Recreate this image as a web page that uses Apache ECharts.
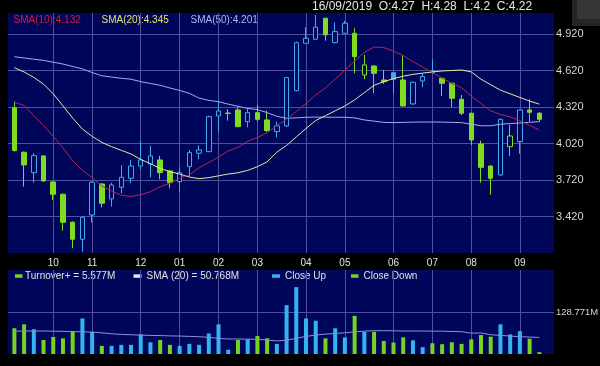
<!DOCTYPE html>
<html><head><meta charset="utf-8">
<script src="https://cdn.jsdelivr.net/npm/echarts@6/dist/echarts.min.js"></script>
<style>html,body{margin:0;padding:0;background:#000;}#c{width:600px;height:366px;}</style>
</head><body><div id="c"></div>
<script>
// ---- data (weekly) ----
const weeks = ['03/09/2018','10/09/2018','17/09/2018','24/09/2018','01/10/2018','08/10/2018','15/10/2018','22/10/2018','29/10/2018','05/11/2018','12/11/2018','19/11/2018','26/11/2018','03/12/2018','10/12/2018','17/12/2018','24/12/2018','31/12/2018','07/01/2019','14/01/2019','21/01/2019','28/01/2019','04/02/2019','11/02/2019','18/02/2019','25/02/2019','04/03/2019','11/03/2019','18/03/2019','25/03/2019','01/04/2019','08/04/2019','15/04/2019','22/04/2019','29/04/2019','06/05/2019','13/05/2019','20/05/2019','27/05/2019','03/06/2019','10/06/2019','17/06/2019','24/06/2019','01/07/2019','08/07/2019','15/07/2019','22/07/2019','29/07/2019','05/08/2019','12/08/2019','19/08/2019','26/08/2019','02/09/2019','09/09/2019','16/09/2019'];
const opens  = [4.316,3.949,3.781,3.919,3.705,3.603,3.373,3.233,3.433,3.688,3.565,3.661,3.735,3.836,3.853,3.886,3.795,3.707,3.831,3.941,3.954,4.248,4.268,4.297,4.201,4.275,4.215,4.119,4.166,4.456,4.846,4.879,5.052,4.851,4.928,4.928,4.585,4.659,4.544,4.604,4.544,4.347,4.536,4.618,4.558,4.517,4.385,4.270,4.017,3.836,3.762,3.995,4.037,4.297,4.27];
const highs  = [4.366,3.955,3.941,3.925,3.712,3.610,3.380,3.420,3.710,3.695,3.699,3.842,3.886,4.045,4.001,3.919,3.800,3.825,3.968,4.006,4.250,4.374,4.303,4.319,4.311,4.338,4.292,4.201,4.570,4.860,4.978,5.079,5.055,5.016,5.030,4.969,4.750,4.665,4.626,4.610,4.750,4.530,4.599,4.714,4.562,4.520,4.421,4.275,4.045,3.840,4.225,4.174,4.300,4.385,4.28];
const lows   = [3.955,3.666,3.699,3.705,3.557,3.304,3.159,3.131,3.370,3.496,3.502,3.611,3.694,3.803,3.743,3.727,3.653,3.625,3.749,3.891,3.950,4.119,4.209,4.155,4.155,4.201,4.116,4.072,4.160,4.450,4.840,4.873,4.868,4.846,4.923,4.599,4.550,4.434,4.511,4.434,4.325,4.338,4.484,4.594,4.412,4.319,4.256,4.009,3.699,3.598,3.755,3.919,3.935,4.201,4.20];
const closes = [3.963,3.845,3.921,3.713,3.603,3.373,3.233,3.414,3.702,3.529,3.680,3.743,3.836,3.886,3.919,3.781,3.699,3.781,3.946,3.968,4.242,4.289,4.272,4.160,4.275,4.220,4.127,4.166,4.563,4.851,4.887,4.978,4.915,4.942,5.011,4.736,4.668,4.599,4.530,4.550,4.330,4.525,4.572,4.606,4.517,4.393,4.270,4.050,3.825,3.735,4.220,4.083,4.297,4.278,4.22];
const sma10 = [4.36,4.335,4.25,4.17,4.08,3.985,3.88,3.80,3.74,3.67,3.63,3.595,3.585,3.60,3.625,3.665,3.695,3.735,3.765,3.82,3.865,3.91,3.96,3.99,4.04,4.07,4.11,4.17,4.22,4.285,4.35,4.42,4.48,4.55,4.625,4.70,4.77,4.815,4.81,4.78,4.745,4.695,4.65,4.605,4.56,4.515,4.48,4.41,4.35,4.29,4.26,4.24,4.21,4.17,4.132];
const sma20 = [4.645,4.61,4.565,4.51,4.43,4.33,4.23,4.14,4.08,4.03,3.995,3.965,3.935,3.89,3.855,3.815,3.79,3.77,3.745,3.732,3.74,3.755,3.77,3.78,3.80,3.83,3.87,3.95,4.005,4.075,4.145,4.21,4.25,4.29,4.33,4.38,4.44,4.50,4.53,4.555,4.575,4.59,4.60,4.61,4.618,4.622,4.626,4.61,4.55,4.505,4.46,4.43,4.40,4.37,4.345];
const sma50 = [4.735,4.725,4.715,4.705,4.69,4.675,4.655,4.635,4.605,4.578,4.568,4.558,4.55,4.53,4.515,4.50,4.478,4.458,4.434,4.395,4.376,4.365,4.345,4.327,4.31,4.30,4.275,4.245,4.229,4.232,4.237,4.238,4.238,4.237,4.237,4.232,4.215,4.205,4.195,4.193,4.195,4.197,4.198,4.198,4.197,4.195,4.193,4.18,4.167,4.167,4.18,4.185,4.19,4.196,4.201];
const volumes = [79,91,76,43,52,48,70,109,68,25,25,28,28,60,36,43,28,25,31,28,63,91,13,43,45,55,48,31,150,205,109,102,48,79,51,117,68,68,40,35,51,42,21,33,30,36,31,45,58,53,91,60,70,47,5.577];
const volSma20 = [70,70.5,70.5,70.5,70,69.5,68.5,68,67,65,62,60,59,58,57,56.5,55.5,55,54,53,51,48,46,46,45.5,45,43,40,42,48,54,58,61,63,65,68,70,71.5,71.5,71,70.5,70.5,70.5,70,70,69,68.5,64,64.5,59,57,55,53,52,50.768];
const priceAxis = {min: 3.12, max: 5.095, step: 0.3};
const volAxis = {min: 0, max: 257.542, step: 128.771};

// ---- styles ----
const NAVY = '#00075a', GRIDC = '#4f4f9e', UP = '#3fa9f0', DOWN = '#7fdc1e';
const VUP = '#33b3f0', VDOWN = '#74d41e', TXT = '#e2e2e2';
const FONT = '"Liberation Sans", Arial, sans-serif';

function parseD(s){ const p = s.split('/'); return new Date(+p[2], +p[1]-1, +p[0]); }
function fridayMonth(i){ const d = parseD(weeks[i]); d.setDate(d.getDate()+4); return d.getMonth(); }
function isMonthStart(i){ return i > 0 && fridayMonth(i) !== fridayMonth(i-1); }
function monthLabel(i){ return String(fridayMonth(i)+1).padStart(2,'0'); }

const candleData = weeks.map((w,i)=>{
  const o=opens[i], c=closes[i];
  const prev = i>0 ? closes[i-1] : o;
  const col = c >= prev ? UP : DOWN;
  const fill = c > o ? NAVY : col;
  return {value:[o,c,lows[i],highs[i]], itemStyle:{color:fill,color0:fill,borderColor:col,borderColor0:col,borderWidth:1}};
});
const volData = volumes.map((v,i)=>({value:v, itemStyle:{color: closes[i] >= opens[i] ? VUP : VDOWN}}));

const vSplit = {show:true, interval:(i)=>isMonthStart(i), alignWithLabel:true, lineStyle:{color:GRIDC, width:1}};

const last = weeks.length-1;
function t(x,y,text,fill,size){ return {type:'text', x:x, y:y, style:{text:text, fill:fill, font:size+'px '+FONT, textVerticalAlign:'middle', verticalAlign:'middle'}}; }
function r(x,y,w,h,fill){ return {type:'rect', shape:{x:x,y:y,width:w,height:h}, style:{fill:fill}}; }
const G = {outerBoundsMode:'none', containLabel:false};

const chart = echarts.init(document.getElementById('c'), null, {renderer:'canvas'});
chart.setOption({
  animation:false,
  backgroundColor:'#000',
  grid:[
    Object.assign({left:8, right:46, top:13, height:240, show:true, backgroundColor:NAVY, borderWidth:0}, G),
    Object.assign({left:9.5, right:55.8, top:13, height:240}, G),
    Object.assign({left:8, right:46, top:270, height:84, show:true, backgroundColor:NAVY, borderWidth:0}, G),
    Object.assign({left:9.5, right:55.8, top:270, height:84}, G)
  ],
  xAxis:[
    {gridIndex:0, type:'value', min:0, max:1, show:false},
    {gridIndex:1, type:'category', data:weeks, boundaryGap:true, axisLine:{show:false}, axisTick:{show:false},
      axisLabel:{interval:(i)=>isMonthStart(i), formatter:(v,i)=>monthLabel(i), color:TXT, fontSize:10, fontFamily:FONT, margin:5},
      splitLine:vSplit},
    {gridIndex:2, type:'value', min:0, max:1, show:false},
    {gridIndex:3, type:'category', data:weeks, boundaryGap:true, axisLine:{show:false}, axisTick:{show:false},
      axisLabel:{show:false}, splitLine:vSplit}
  ],
  yAxis:[
    {gridIndex:0, type:'value', position:'right', min:priceAxis.min, max:priceAxis.max, interval:priceAxis.step,
      axisLine:{show:false}, axisTick:{show:false},
      axisLabel:{color:'#d4d4d4', fontSize:11, fontFamily:FONT, margin:2, showMinLabel:false, showMaxLabel:false, formatter:(v)=>v.toFixed(3)},
      splitLine:{show:true, showMinLine:false, showMaxLine:false, lineStyle:{color:GRIDC, width:1}}},
    {gridIndex:1, type:'value', min:priceAxis.min, max:priceAxis.max, show:false},
    {gridIndex:2, type:'value', position:'right', min:volAxis.min, max:volAxis.max, interval:volAxis.step,
      axisLine:{show:false}, axisTick:{show:false},
      axisLabel:{color:'#d4d4d4', fontSize:9.5, fontFamily:FONT, margin:2, showMinLabel:false, showMaxLabel:false, formatter:(v)=>v.toFixed(3)+'M'},
      splitLine:{show:true, showMinLine:false, showMaxLine:false, lineStyle:{color:GRIDC, width:1}}},
    {gridIndex:3, type:'value', min:volAxis.min, max:volAxis.max, show:false}
  ],
  series:[
    {type:'candlestick', xAxisIndex:1, yAxisIndex:1, data:candleData, barWidth:5, z:3},
    {type:'line', xAxisIndex:1, yAxisIndex:1, data:sma50, symbol:'none', lineStyle:{color:'#a9a9ec', width:1}, z:4},
    {type:'line', xAxisIndex:1, yAxisIndex:1, data:sma20, symbol:'none', lineStyle:{color:'#e6e6a4', width:1}, z:4},
    {type:'line', xAxisIndex:1, yAxisIndex:1, data:sma10, symbol:'none', lineStyle:{color:'#b22650', width:1}, z:4},
    {type:'bar', xAxisIndex:3, yAxisIndex:3, data:volData, barWidth:4, z:3},
    {type:'line', xAxisIndex:3, yAxisIndex:3, data:volSma20, symbol:'none', lineStyle:{color:'#8a90dc', width:1}, z:4}
  ],
  graphic:[
    r(572,0,28,26,'#262626'), r(577,0,23,19,'#363636'),
    t(312,7, weeks[last]+'  O:'+opens[last]+'  H:'+highs[last]+'  L:'+lows[last]+'  C:'+closes[last], '#e8e8e8', 12),
    t(13.5,20.5,'SMA(10):'+sma10[last].toFixed(3),'#c8203e',10),
    t(101.5,20.5,'SMA(20):'+sma20[last].toFixed(3),'#e4e070',10),
    t(190.5,20.5,'SMA(50):'+sma50[last].toFixed(3),'#b4b4f0',10),
    r(15,274.3,7.5,3.5,VDOWN), t(25,276,'Turnover+ = '+volumes[last].toFixed(3)+'M',TXT,10),
    r(133.5,274.3,8,3.5,'#c8f0ff'), t(146.5,276,'SMA (20) = '+volSma20[last].toFixed(3)+'M',TXT,10),
    r(272,274.3,8,3.5,VUP), t(285,276,'Close Up',TXT,10),
    r(351,274.3,7.5,3.5,VDOWN), t(363.5,276,'Close Down',TXT,10)
  ]
});
</script></body></html>
